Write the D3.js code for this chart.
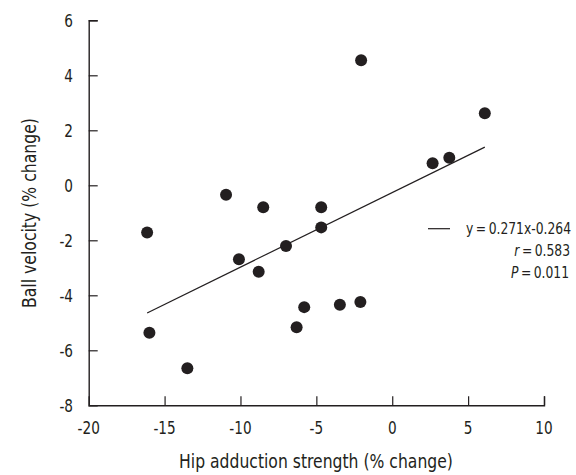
<!DOCTYPE html>
<html>
<head>
<meta charset="utf-8">
<script src="https://cdn.jsdelivr.net/npm/d3@7"></script>
<style>
  body { margin: 0; background: #fff; }
  svg text { font-family: "Liberation Sans Narrow", "DejaVu Sans Condensed", "Arial Narrow", sans-serif; fill: #231f20; }
</style>
</head>
<body>
<svg id="chart" width="576" height="475"></svg>
<script>
// data
const hipStrength = [-16.15, -16.0, -13.5, -10.95, -8.5, -10.1, -8.8, -7.0, -6.3, -5.8,
                     -3.45, -2.1, -2.05, -4.68, -4.68, 2.66, 3.76, 6.1];
const ballVelocity = [-1.72, -5.36, -6.65, -0.34, -0.8, -2.69, -3.14, -2.21, -5.16, -4.43,
                      -4.34, -4.24, 4.55, -0.8, -1.53, 0.8, 1.0, 2.62];
const xTicks = [-20, -15, -10, -5, 0, 5, 10];
const yTicks = [-8, -6, -4, -2, 0, 2, 4, 6];
const fitSlope = 0.271;
const fitIntercept = -0.264;
const statLines = ["y\u2009=\u20090.271x-0.264", "r", "P"];

const svg = d3.select("#chart");
const x = d3.scaleLinear().domain([-20, 10]).range([88.7, 544]);
const y = d3.scaleLinear().domain([-8, 6]).range([405.3, 20.3]);
const ink = "#231f20";

// squeeze a text horizontally around its anchor so it looks like the condensed face
function squeeze(sel, factor) {
  sel.each(function() {
    const t = d3.select(this);
    const ax = +t.attr("x"), ay = +t.attr("y");
    t.attr("transform", `translate(${ax},${ay}) scale(${factor},1) translate(${-ax},${-ay})`);
  });
}
function fitWidth(sel, target) {
  sel.each(function() {
    squeeze(d3.select(this), target / this.getComputedTextLength());
  });
}

// axes, ticks point inward
const xAxis = svg.append("g")
  .attr("transform", `translate(0,${y(-8)})`)
  .call(d3.axisTop(x).tickValues(xTicks).tickSize(9).tickFormat(""));
const yAxis = svg.append("g")
  .attr("transform", `translate(${x(-20)},0)`)
  .call(d3.axisRight(y).tickValues(yTicks).tickSize(9).tickFormat(""));
[xAxis, yAxis].forEach(g => {
  g.select(".domain").attr("stroke", ink).attr("stroke-width", 1.4);
  g.selectAll(".tick line").attr("stroke", ink).attr("stroke-width", 1.2);
});
xAxis.selectAll(".tick").filter(d => d === -20).remove();
yAxis.selectAll(".tick").filter(d => d === -8).remove();

// tick labels
svg.append("g").selectAll("text")
  .data(xTicks)
  .join("text")
    .attr("x", d => x(d))
    .attr("y", 434)
    .attr("text-anchor", "middle")
    .attr("font-size", 18.5)
    .text(d => d)
    .call(squeeze, 0.82);
svg.append("g").selectAll("text")
  .data(yTicks)
  .join("text")
    .attr("x", 73)
    .attr("y", d => y(d) + 6.5)
    .attr("text-anchor", "end")
    .attr("font-size", 18.5)
    .text(d => d)
    .call(squeeze, 0.82);

// axis titles
svg.append("text")
  .attr("x", 316)
  .attr("y", 468)
  .attr("text-anchor", "middle")
  .attr("font-size", 20)
  .text("Hip adduction strength (% change)")
  .call(fitWidth, 274);
const yTitle = svg.append("text")
  .attr("text-anchor", "middle")
  .attr("font-size", 20)
  .text("Ball velocity (% change)");
const yf = 190 / yTitle.node().getComputedTextLength();
yTitle.attr("transform", `translate(36,213) rotate(-90) scale(${yf},1)`);

// regression line over the range of the data
const xExtent = d3.extent(hipStrength);
svg.append("line")
  .attr("x1", x(xExtent[0])).attr("y1", y(fitSlope * xExtent[0] + fitIntercept))
  .attr("x2", x(xExtent[1])).attr("y2", y(fitSlope * xExtent[1] + fitIntercept))
  .attr("stroke", ink)
  .attr("stroke-width", 1.2);

// points
svg.append("g").selectAll("circle")
  .data(hipStrength.map((v, i) => [v, ballVelocity[i]]))
  .join("circle")
    .attr("cx", d => x(d[0]))
    .attr("cy", d => y(d[1]))
    .attr("r", 6)
    .attr("fill", ink);

// legend / statistics
svg.append("line")
  .attr("x1", 428).attr("x2", 450)
  .attr("y1", 228.7).attr("y2", 228.7)
  .attr("stroke", ink).attr("stroke-width", 1.2);
const stats = svg.append("g").attr("font-size", 16.5).attr("text-anchor", "end");
const eqText = stats.append("text").attr("x", 571).attr("y", 234.5).text(statLines[0]);
const sf = 105 / eqText.node().getComputedTextLength();
eqText.call(squeeze, sf);
const rText = stats.append("text").attr("x", 570).attr("y", 256.5);
rText.append("tspan").attr("font-style", "italic").text(statLines[1]);
rText.append("tspan").text("\u2009=\u20090.583");
rText.call(squeeze, sf);
const pText = stats.append("text").attr("x", 569).attr("y", 278.5);
pText.append("tspan").attr("font-style", "italic").text(statLines[2]);
pText.append("tspan").text("\u2009=\u20090.011");
pText.call(squeeze, sf);
</script>
</body>
</html>
